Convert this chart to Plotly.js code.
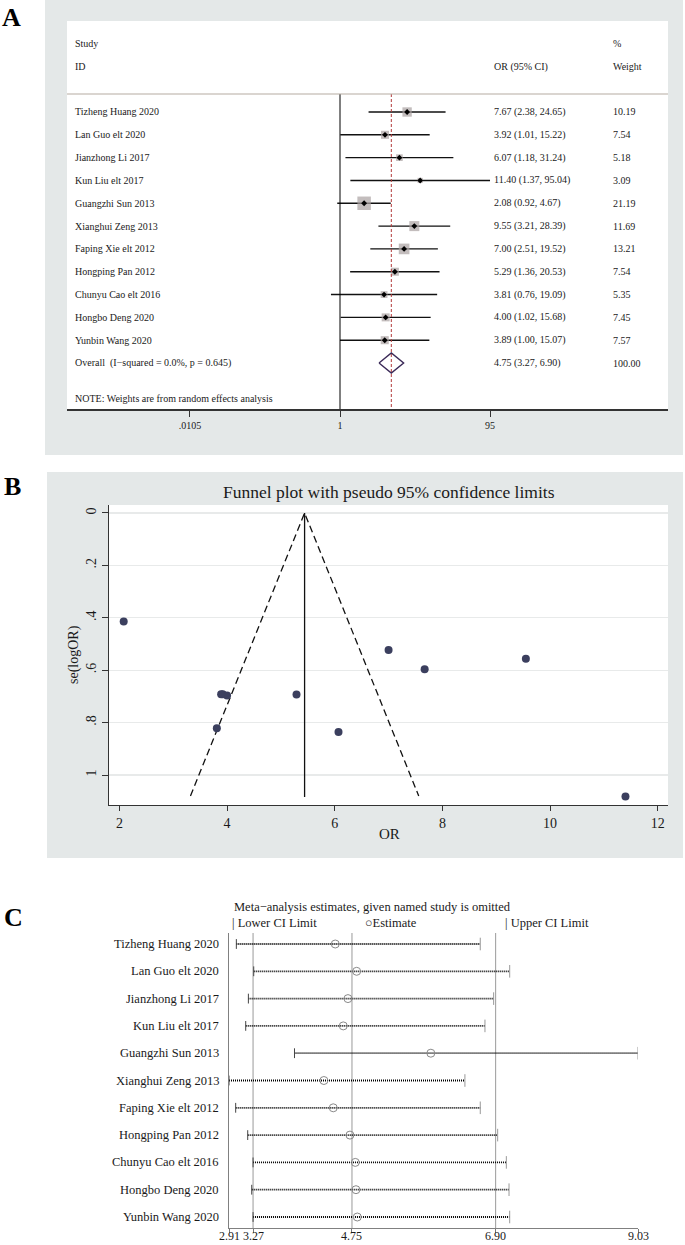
<!DOCTYPE html>
<html>
<head>
<meta charset="utf-8">
<script src="https://cdn.plot.ly/plotly-3.0.1.min.js"></script>
<style>html,body{margin:0;padding:0;background:#fff;}#chart{width:685px;height:1245px;}</style>
</head>
<body>
<div id="chart"></div>
<script>
// ---------- DATA ----------
const studies = ['Tizheng Huang 2020','Lan Guo elt 2020','Jianzhong Li 2017','Kun Liu elt 2017','Guangzhi Sun 2013','Xianghui Zeng 2013','Faping Xie elt 2012','Hongping Pan 2012','Chunyu Cao elt 2016','Hongbo Deng 2020','Yunbin Wang 2020'];
const orValue = [7.67, 3.92, 6.07, 11.40, 2.08, 9.55, 7.00, 5.29, 3.81, 4.00, 3.89];
const ciLower = [2.38, 1.01, 1.18, 1.37, 0.92, 3.21, 2.51, 1.36, 0.76, 1.02, 1.00];
const ciUpper = [24.65, 15.22, 31.24, 95.04, 4.67, 28.39, 19.52, 20.53, 19.09, 15.68, 15.07];
const weights = [10.19, 7.54, 5.18, 3.09, 21.19, 11.69, 13.21, 7.54, 5.35, 7.45, 7.57];
const overallEst = 4.75, overallLow = 3.27, overallHigh = 6.90, overallWeight = 100.00;
const overallLabel = 'Overall  (I\u2212squared = 0.0%, p = 0.645)';
const forestTicks = [0.0105, 1, 95];
const forestTickText = ['.0105', '1', '95'];

// funnel plot
const seLogOR = [0.596, 0.692, 0.836, 1.082, 0.414, 0.556, 0.523, 0.693, 0.822, 0.697, 0.692];
const funnelX = [3.32, 5.44, 7.56];
const funnelY = [1.08, 0, 1.08];
const funnelCenter = 5.44;
const funnelTicksX = [2, 4, 6, 8, 10, 12];
const funnelTicksY = [0, 0.2, 0.4, 0.6, 0.8, 1];
const funnelTickTextY = ['0', '.2', '.4', '.6', '.8', '1'];

// sensitivity (leave-one-out)
const omitLower = [3.02, 3.28, 3.20, 3.16, 3.89, 2.91, 3.01, 3.19, 3.27, 3.25, 3.27];
const omitEst   = [4.50, 4.82, 4.69, 4.62, 5.93, 4.33, 4.47, 4.72, 4.80, 4.81, 4.83];
const omitUpper = [6.67, 7.11, 6.87, 6.74, 9.03, 6.44, 6.67, 6.93, 7.06, 7.10, 7.11];
const sensTicks = [2.91, 3.27, 4.75, 6.90, 9.03];
const sensTickText = ['2.91', '3.27', '4.75', '6.90', '9.03'];

// ---------- LAYOUT HELPERS ----------
const W = 685, H = 1245;
const SERIF = 'Liberation Serif, Times New Roman, serif';
const px = x => x / W;
const py = y => 1 - y / H;
function ann(text, x, y, opt) {
  opt = opt || {};
  return Object.assign({
    text: text, x: px(x), y: py(y), xref: 'paper', yref: 'paper', showarrow: false,
    xanchor: 'left', yanchor: 'middle',
    font: {family: SERIF, size: opt.size || 10, color: opt.color || '#1a1a1a'}
  }, opt.extra || {});
}
const rowsA = studies.map((s, i) => i + 1);
const overallRow = studies.length + 1;
const rowA = p => 1 + (p - 112) / 22.82; // pixel -> row unit (panel A)
const rowsC = studies.map((s, i) => i + 1);

const traces = [];
// ---------- PANEL A: forest ----------
const ciX = [], ciY = [];
studies.forEach((s, i) => { ciX.push(ciLower[i], ciUpper[i], null); ciY.push(rowsA[i], rowsA[i], null); });
traces.push({x: ciX, y: ciY, xaxis: 'x', yaxis: 'y', mode: 'lines', line: {color: '#111', width: 1.4}, hoverinfo: 'skip'});
traces.push({x: orValue, y: rowsA, xaxis: 'x', yaxis: 'y', mode: 'markers',
  marker: {symbol: 'square', size: weights.map(w => 13.5 * Math.sqrt(w / 21.19)), color: '#a9a1a1', line: {width: 0}}, hoverinfo: 'skip'});
traces.push({x: orValue, y: rowsA, xaxis: 'x', yaxis: 'y', mode: 'markers',
  marker: {symbol: 'diamond', size: 4.5, color: '#000'}, hoverinfo: 'skip'});
traces.push({x: [1, 1], y: [rowA(94), rowA(409)], xaxis: 'x', yaxis: 'y', mode: 'lines', line: {color: '#000', width: 1}, hoverinfo: 'skip'});
traces.push({x: [overallEst, overallEst], y: [rowA(94), rowA(409)], xaxis: 'x', yaxis: 'y', mode: 'lines', line: {color: '#b23a3a', width: 1, dash: '3px,2px'}, hoverinfo: 'skip'});
const dh = 10 / 22.82;
traces.push({x: [overallLow, overallEst, overallHigh, overallEst, overallLow],
  y: [overallRow, overallRow - dh, overallRow, overallRow + dh, overallRow], xaxis: 'x', yaxis: 'y',
  mode: 'lines', line: {color: '#3b2a58', width: 1.4}, hoverinfo: 'skip'});

// ---------- PANEL B: funnel ----------
traces.push({x: funnelX, y: funnelY, xaxis: 'x2', yaxis: 'y2', mode: 'lines', line: {color: '#111', width: 1.3, dash: '7px,4px'}, hoverinfo: 'skip'});
traces.push({x: [funnelCenter, funnelCenter], y: [0, 1.084], xaxis: 'x2', yaxis: 'y2', mode: 'lines', line: {color: '#111', width: 1.3}, hoverinfo: 'skip'});
traces.push({x: orValue, y: seLogOR, xaxis: 'x2', yaxis: 'y2', mode: 'markers', marker: {size: 8, color: '#3b3f5e'}, hoverinfo: 'skip'});

// ---------- PANEL C: sensitivity ----------
const sX = [], sY = [];
studies.forEach((s, i) => { sX.push(omitLower[i], omitUpper[i], null); sY.push(rowsC[i], rowsC[i], null); });
traces.push({x: sX, y: sY, xaxis: 'x3', yaxis: 'y3', mode: 'lines', line: {color: '#000', width: 1.8, dash: '1px,1px'}, hoverinfo: 'skip'});
traces.push({x: omitLower, y: rowsC, xaxis: 'x3', yaxis: 'y3', mode: 'markers', marker: {symbol: 'line-ns', size: 7, line: {width: 1, color: '#444'}}, hoverinfo: 'skip'});
traces.push({x: omitUpper, y: rowsC, xaxis: 'x3', yaxis: 'y3', mode: 'markers', marker: {symbol: 'line-ns', size: 9, line: {width: 1, color: '#999'}}, hoverinfo: 'skip'});
traces.push({x: omitEst, y: rowsC, xaxis: 'x3', yaxis: 'y3', mode: 'markers', marker: {symbol: 'circle-open', size: 8, line: {width: 1}, color: '#8a8a8a'}, hoverinfo: 'skip'});

// ---------- SHAPES ----------
const GRAY = '#e4e8e8';
const shapes = [
  {type: 'rect', xref: 'paper', yref: 'paper', x0: px(45), x1: px(683), y0: py(455), y1: py(0), fillcolor: GRAY, line: {width: 0}, layer: 'below'},
  {type: 'rect', xref: 'paper', yref: 'paper', x0: px(67), x1: px(668), y0: py(409), y1: py(21), fillcolor: '#fff', line: {width: 0}, layer: 'below'},
  {type: 'line', xref: 'paper', yref: 'paper', x0: px(67), x1: px(668), y0: py(94), y1: py(94), line: {color: '#b5aba2', width: 1.2}},
  {type: 'rect', xref: 'paper', yref: 'paper', x0: px(47), x1: px(683), y0: py(858), y1: py(472), fillcolor: GRAY, line: {width: 0}, layer: 'below'},
  {type: 'rect', xref: 'paper', yref: 'paper', x0: px(109), x1: px(668), y0: py(805), y1: py(505), fillcolor: '#fff', line: {width: 0}, layer: 'below'}
];
[overallLow, overallEst, overallHigh].forEach(v => shapes.push({type: 'line', xref: 'x3', yref: 'y3 domain', x0: v, x1: v, y0: 0, y1: 1, line: {color: '#9a9a9a', width: 1}, layer: 'below'}));

// ---------- ANNOTATIONS ----------
const anns = [];
anns.push(ann('<b>A</b>', 0, 17, {size: 26, color: '#000'}));
anns.push(ann('<b>B</b>', 2, 487, {size: 26, color: '#000'}));
anns.push(ann('<b>C</b>', 2, 917, {size: 26, color: '#000'}));
// panel A header
anns.push(ann('Study', 73, 43));
anns.push(ann('ID', 73, 67));
anns.push(ann('OR (95% CI)', 492, 67));
anns.push(ann('%', 611, 43));
anns.push(ann('Weight', 611, 67));
const fmt = v => v.toFixed(2);
studies.forEach((s, i) => {
  const base = {xref: 'paper', yref: 'y', y: rowsA[i], showarrow: false, xanchor: 'left', yanchor: 'middle', font: {family: SERIF, size: 10, color: '#1a1a1a'}};
  anns.push(Object.assign({}, base, {text: s, x: px(73)}));
  anns.push(Object.assign({}, base, {text: fmt(orValue[i]) + ' (' + fmt(ciLower[i]) + ', ' + fmt(ciUpper[i]) + ')', x: px(492)}));
  anns.push(Object.assign({}, base, {text: fmt(weights[i]), x: px(611)}));
});
{
  const base = {xref: 'paper', yref: 'y', y: overallRow, showarrow: false, xanchor: 'left', yanchor: 'middle', font: {family: SERIF, size: 10, color: '#1a1a1a'}};
  anns.push(Object.assign({}, base, {text: overallLabel, x: px(73)}));
  anns.push(Object.assign({}, base, {text: fmt(overallEst) + ' (' + fmt(overallLow) + ', ' + fmt(overallHigh) + ')', x: px(492)}));
  anns.push(Object.assign({}, base, {text: fmt(overallWeight), x: px(611)}));
}
anns.push(ann('NOTE: Weights are from random effects analysis', 73, 398));
// panel B
anns.push(ann('Funnel plot with pseudo 95% confidence limits', 389, 492, {size: 17.5, extra: {xanchor: 'center'}}));
anns.push(ann('OR', 389, 834, {size: 15, extra: {xanchor: 'center'}}));
anns.push(ann('se(logOR)', 74, 655, {size: 14, extra: {xanchor: 'center', textangle: -90}}));
// panel C
anns.push(ann('Meta\u2212analysis estimates, given named study is omitted', 232, 907, {size: 12.5}));
anns.push(ann('| Lower CI Limit', 230, 923, {size: 12.5}));
anns.push(ann('\u25CBEstimate', 363, 923, {size: 12.5}));
anns.push(ann('| Upper CI Limit', 503, 923, {size: 12.5}));
studies.forEach((s, i) => {
  anns.push({text: s, xref: 'paper', yref: 'y3', x: px(221), y: rowsC[i], showarrow: false, xanchor: 'right', yanchor: 'middle', font: {family: SERIF, size: 12.5, color: '#1a1a1a'}});
});
sensTicks.forEach((v, i) => {
  anns.push({text: sensTickText[i], xref: 'x3', yref: 'paper', x: v, y: 0, showarrow: false, xanchor: 'center', yanchor: 'bottom', font: {family: SERIF, size: 12, color: '#1a1a1a'}});
});

// ---------- AXES ----------
const decade = 150 / Math.log10(95);
const layout = {
  width: W, height: H, margin: {l: 0, r: 0, t: 0, b: 0},
  paper_bgcolor: '#fff', plot_bgcolor: 'rgba(0,0,0,0)', showlegend: false,
  font: {family: SERIF, color: '#1a1a1a'},
  xaxis: {domain: [px(67), px(668)], anchor: 'y', type: 'log',
    range: [(67 - 340) / decade, (668 - 340) / decade],
    tickmode: 'array', tickvals: forestTicks, ticktext: forestTickText, ticks: 'outside', ticklen: 6, tickcolor: '#333', tickwidth: 1,
    showline: true, linecolor: '#333', linewidth: 1.5, showgrid: false, zeroline: false,
    tickfont: {family: SERIF, size: 10, color: '#1a1a1a'}, fixedrange: true},
  yaxis: {domain: [py(409), py(21)], anchor: 'x', range: [rowA(409), rowA(21)], visible: false, fixedrange: true},
  xaxis2: {domain: [px(109), px(668)], anchor: 'y2', range: [1.807, 12.19],
    tickmode: 'array', tickvals: funnelTicksX, ticks: 'outside', ticklen: 5, tickcolor: '#333',
    showline: true, linecolor: '#333', linewidth: 1.3, showgrid: false, zeroline: false,
    tickfont: {family: SERIF, size: 14, color: '#1a1a1a'}, fixedrange: true},
  yaxis2: {domain: [py(805), py(505)], anchor: 'x2', range: [1.1145, -0.0305],
    tickmode: 'array', tickvals: funnelTicksY, ticktext: funnelTickTextY, tickangle: -90, ticks: 'outside', ticklen: 6, tickcolor: '#333',
    showline: true, linecolor: '#333', linewidth: 1.3, showgrid: true, gridcolor: '#e8eaea', gridwidth: 1.3, zeroline: false,
    tickfont: {family: SERIF, size: 14, color: '#1a1a1a'}, fixedrange: true},
  xaxis3: {domain: [px(229), px(638)], anchor: 'y3', range: [2.91, 9.03],
    tickmode: 'array', tickvals: sensTicks, ticktext: sensTickText, showticklabels: false, ticks: 'outside', ticklen: 4, tickcolor: '#777',
    showline: true, linecolor: '#808080', linewidth: 1, showgrid: false, zeroline: false, fixedrange: true},
  yaxis3: {domain: [py(1228), py(933)], anchor: 'x3', range: [1 + 284 / 27.3, 1 - 11 / 27.3],
    showline: true, linecolor: '#808080', linewidth: 1, showticklabels: false, ticks: '', showgrid: false, zeroline: false, fixedrange: true},
  shapes: shapes,
  annotations: anns
};
Plotly.newPlot('chart', traces, layout, {displayModeBar: false, staticPlot: true});
</script>
</body>
</html>
